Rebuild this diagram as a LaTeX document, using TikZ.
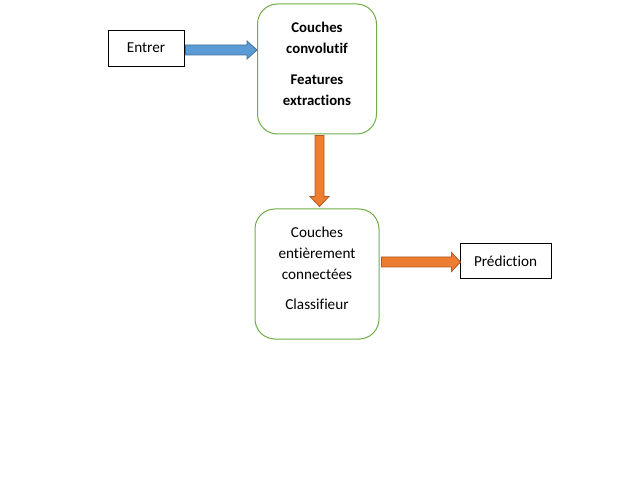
\documentclass[tikz,border=0pt]{standalone}
\usepackage{fontspec}
\setmainfont[Ligatures={NoCommon}]{Carlito}
\usetikzlibrary{calc}
\definecolor{bluefill}{HTML}{5B9BD5}
\definecolor{blueline}{HTML}{41719C}
\definecolor{orfill}{HTML}{ED7D31}
\definecolor{orline}{HTML}{AE5A21}
\definecolor{grline}{HTML}{70AD47}
\tikzset{
  plainbox/.style={draw=black, line width=1pt, inner sep=0pt, font=\fontsize{15.2}{17}\selectfont},
  roundbox/.style={draw=grline, line width=1pt, rounded corners=20pt, inner sep=0pt},
  para/.style={align=center, inner sep=0pt, font=\fontsize{15.2}{21}\selectfont},
  boldpara/.style={para, font=\fontsize{14.8}{21}\selectfont\bfseries},
  bluearrow/.style={fill=bluefill, draw=blueline, line width=0.8pt, line join=miter},
  orarrow/.style={fill=orfill, draw=orline, line width=0.8pt, line join=miter}
}
\begin{document}
\begin{tikzpicture}[x=1pt,y=-1pt]
\useasboundingbox (0,0) rectangle (635,489);
\fill[white] (0,0) rectangle (635,489);
% boxes
\node[plainbox, minimum width=76pt, minimum height=36pt, text depth=0pt] (entrer) at (146,49) {\raisebox{2pt}{Entrer}};
\node[roundbox, minimum width=119pt, minimum height=130pt] (conv) at (317,69) {};
\node[roundbox, minimum width=124pt, minimum height=130pt] (fc) at (317,274) {};
\node[plainbox, minimum width=91pt, minimum height=35pt] (pred) at (505.5,261.5) {Prédiction};
% texts
\node[boldpara] (t1) at (317,38) {Couches\\convolutif};
\node[boldpara] (t2) at (317,90) {Features\\extractions};
\node[para] (t3) at (317,253.5) {Couches\\entièrement\\connectées};
\node[para] (t4) at (317,304.5) {Classifieur};
% blue arrow
\coordinate (b0) at ($(entrer.east)+(1,1)$);
\coordinate (b1) at (conv.west |- b0);
\draw[bluearrow] ($(b0)+(0,-5)$) -- ($(b1)+(-10,-5)$) -- ($(b1)+(-10,-9)$) -- (b1)
  -- ($(b1)+(-10,9)$) -- ($(b1)+(-10,5)$) -- ($(b0)+(0,5)$) -- cycle;
% orange down arrow
\coordinate (o0) at ($(conv.south)+(2.5,1)$);
\coordinate (o1) at ($(fc.north)+(2.5,-2)$);
\draw[orarrow] ($(o0)+(-4.5,0)$) -- ($(o1)+(-4.5,-10)$) -- ($(o1)+(-9.5,-10)$) -- (o1)
  -- ($(o1)+(9.5,-10)$) -- ($(o1)+(4.5,-10)$) -- ($(o0)+(4.5,0)$) -- cycle;
% orange right arrow
\coordinate (r0) at ($(fc.east)+(2,-12)$);
\coordinate (r1) at ($(pred.west)+(1,0.5)$);
\draw[orarrow] ($(r0)+(0,-5)$) -- ($(r1)+(-9,-5)$) -- ($(r1)+(-9,-9.5)$) -- (r1)
  -- ($(r1)+(-9,9.5)$) -- ($(r1)+(-9,5)$) -- ($(r0)+(0,5)$) -- cycle;
\end{tikzpicture}
\end{document}
